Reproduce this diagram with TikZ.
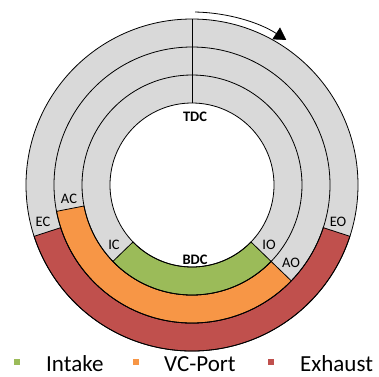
\documentclass[tikz,border=0pt]{standalone}
\usepackage{fontspec}
\setmainfont{Carlito}
\usetikzlibrary{arrows.meta}
\definecolor{ringgray}{RGB}{217,217,217}
\definecolor{intakegreen}{RGB}{155,187,89}
\definecolor{portorange}{RGB}{247,150,70}
\definecolor{exhaustred}{RGB}{192,80,77}
\begin{document}
\begin{tikzpicture}[x=1pt,y=1pt,
    ring/.style={draw=black, line width=0.8pt},
    lbl/.style={font=\fontsize{14.5}{16}\selectfont, inner sep=0pt},
    dc/.style={font=\fontsize{14.5}{16}\selectfont\bfseries, inner sep=0pt},
    legtext/.style={font=\fontsize{23}{26}\selectfont, anchor=base west, inner sep=0pt},
    legbox/.style={minimum size=6pt, inner sep=0pt}]
    \useasboundingbox (-192,-191) rectangle (187,185);
    % gray rings
    \fill[ringgray, even odd rule] (0,0) circle (166) (0,0) circle (82);
    % valve events
    \draw[ring, fill=exhaustred] (198:138) arc (198:342:138) -- (342:166)
        arc (342:198:166) -- cycle;
    \draw[ring, fill=portorange] (191:110) arc (191:316:110) -- (316:138)
        arc (316:191:138) -- cycle;
    \draw[ring, fill=intakegreen] (224:82) arc (224:316:82) -- (316:110)
        arc (316:224:110) -- cycle;
    \foreach \r in {82,110,138,166}
        \draw[ring] (0,0) circle (\r);
    \draw[ring] (90:82) -- (90:166);
    \draw[line width=0.8pt, -{Triangle[length=12pt,width=14pt]}] (89:173) arc (89:57:173);
    % labels
    \node[dc] (tdc) at (3,68) {TDC};
    \node[dc] (bdc) at (3,-75) {BDC};
    \node[lbl] (ec) at (-149,-37) {EC};
    \node[lbl] (ac) at (-123,-14) {AC};
    \node[lbl] (ic) at (-78,-60) {IC};
    \node[lbl] (io) at (77,-60) {IO};
    \node[lbl] (ao) at (99,-78) {AO};
    \node[lbl] (eo) at (146,-37) {EO};
    % legend
    \node[legbox, fill=intakegreen] (sq-int) at (-175,-177) {};
    \node[legtext] (lg-int) at (-146,-186) {Intake};
    \node[legbox, fill=portorange] (sq-vc) at (-56,-177) {};
    \node[legtext] (lg-vc) at (-28,-186) {VC-Port};
    \node[legbox, fill=exhaustred] (sq-ex) at (79,-177) {};
    \node[legtext] (lg-ex) at (108,-186) {Exhaust};
\end{tikzpicture}
\end{document}
